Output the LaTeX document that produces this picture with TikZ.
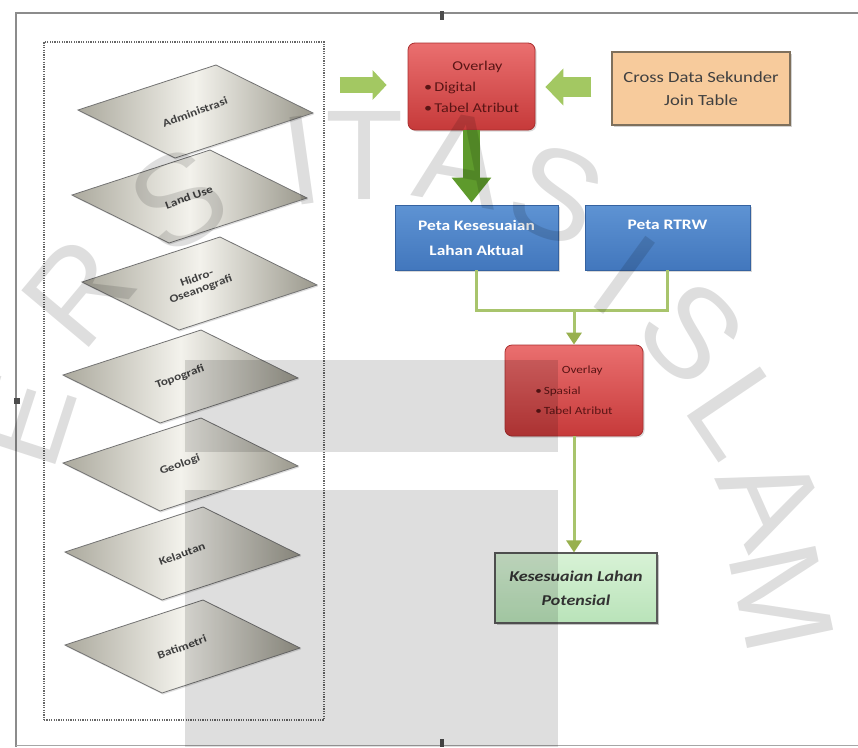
\documentclass[tikz,border=0pt]{standalone}
\usepackage{fontspec}
\setmainfont{Carlito}[FakeStretch=1.2]
\newfontfamily\wmfont{Liberation Sans}
\usetikzlibrary{arrows.meta,shadows,calc}
\definecolor{redA}{HTML}{EA6F6F}
\definecolor{redB}{HTML}{C63A3A}
\definecolor{redD}{HTML}{A92E2E}
\definecolor{redT}{HTML}{5A1515}
\definecolor{blueA}{HTML}{5E93D3}
\definecolor{blueB}{HTML}{4277BD}
\definecolor{blueD}{HTML}{3562A0}
\definecolor{beige}{HTML}{F7CB9C}
\definecolor{beigeD}{HTML}{7E705C}
\definecolor{greenA}{HTML}{D8F2D6}
\definecolor{greenB}{HTML}{B9E3B9}
\definecolor{arrG}{HTML}{A3C862}
\definecolor{arrDG}{HTML}{5E9A2C}
\definecolor{lineG}{HTML}{A8C46C}
\definecolor{tipG}{HTML}{98B04E}
\definecolor{layD}{HTML}{ABA99D}
\definecolor{layR}{HTML}{9A988C}
\definecolor{layL}{HTML}{F3F2EC}
\tikzset{
  redbox/.style={draw=redD, line width=0.8pt, rounded corners=7pt, top color=redA, bottom color=redB,
    text=redT, align=left, inner sep=0pt, drop shadow={shadow xshift=1.5pt, shadow yshift=-1.5pt, opacity=0.3}},
  bluebox/.style={draw=blueD, line width=0.8pt, top color=blueA, bottom color=blueB,
    text=white, align=center, font=\fontsize{14.5}{25}\selectfont\bfseries, inner sep=0pt,
    drop shadow={shadow xshift=1.5pt, shadow yshift=-1.5pt, opacity=0.3}},
  beigebox/.style={draw=beigeD, line width=1.4pt, fill=beige, text=black!75, align=center,
    font=\fontsize{15.5}{23}\selectfont, inner sep=0pt, drop shadow={shadow xshift=2pt, shadow yshift=-2pt, opacity=0.35}},
  greenbox/.style={draw=black!65, line width=1.2pt, top color=greenA, bottom color=greenB, text=black!80,
    align=center, font=\fontsize{15}{24}\selectfont\bfseries\itshape, inner sep=0pt,
    drop shadow={shadow xshift=2pt, shadow yshift=-2pt, opacity=0.45}},
  layer/.style={draw=black!55, line width=0.8pt, left color=layD, right color=layR, middle color=layL,
    drop shadow={shadow xshift=1pt, shadow yshift=-1.5pt, opacity=0.25}},
  laytext/.style={text=black!75, rotate=20, align=center, font=\fontsize{11}{12}\selectfont\bfseries},
  dotframe/.style={draw=black!60, line width=1.8pt, dash pattern=on 1.2pt off 1.2pt},
  blockarrow/.style={draw=arrG},
  thinlink/.style={draw=lineG, line width=3pt},
  wm/.style={text=black, text opacity=0.13, font=\wmfont\fontsize{128}{128}\selectfont},
  overlay/.style={fill=black, fill opacity=0.13, draw=none}
}
\begin{document}
\begin{tikzpicture}[x=1pt,y=-1pt]
\useasboundingbox (0,0) rectangle (858,747);
\fill[white] (0,0) rectangle (858,747);
% outer picture frame
\draw[black!45, line width=1.2pt] (858,13) -- (16,13) -- (16,747);
\draw[black!35, line width=1pt] (16,745.5) -- (858,745.5);
\fill[black!70] (440,11) rectangle (444,20);
\fill[black!70] (440,739) rectangle (444,747);
\fill[black!70] (14,398) rectangle (20,404);

% layers frame
\node[dotframe, minimum width=280pt, minimum height=678pt, inner sep=0pt] (layers) at (184,381) {};

% layer sheets (bottom first)
\foreach \n/\lx/\ly/\t in {7/65/645/Batimetri, 6/65/552/Kelautan, 5/63/463/Geologi, 4/63/375/Topografi,
  3/82/282/{Hidro-\\Oseanografi}, 2/72/195/Land Use, 1/78/110/Administrasi}{
  \coordinate (L\n) at (\lx,\ly);
  \path[layer] (L\n) -- ++(138,-45) -- ++(97,48) -- ++(-138,45) -- cycle;
  \node[laytext] (lt\n) at ($(L\n)+(117,2)$) {\t};
}

% boxes
\node[redbox, minimum width=127pt, minimum height=87pt, font=\fontsize{13.5}{21}\selectfont] (red1) at (471.5,86.5)
  {\hspace*{2.1em}Overlay\\\textbullet\,Digital\\\textbullet\,Tabel Atribut};
\node[beigebox, minimum width=178pt, minimum height=73pt] (src) at (701,88.5)
  {Cross Data Sekunder\\Join Table};
\node[bluebox, minimum width=163pt, minimum height=65pt] (peta1) at (476.5,237.5)
  {Peta Kesesuaian\\Lahan Aktual};
\node[bluebox, minimum width=165pt, minimum height=65pt] (peta2) at (667.5,237.5)
  {Peta RTRW\\\phantom{L}};
\node[redbox, minimum width=138pt, minimum height=91pt, font=\fontsize{11}{20.5}\selectfont] (red2) at (574,390.5)
  {\hspace*{2.4em}Overlay\\\textbullet\,Spasial\\\textbullet\,Tabel Atribut};
\node[greenbox, minimum width=162pt, minimum height=70pt] (pot) at (576,588)
  {Kesesuaian Lahan\\Potensial};

% block arrows
\draw[blockarrow, line width=16pt, -{Triangle[width=29pt,length=14pt]}, shorten <=15pt, shorten >=21pt]
  (layers.east |- 0,85) coordinate (a1s) -- (red1.west |- 0,85) coordinate (a1e);
\draw[blockarrow, line width=20pt, -{Triangle[width=36pt,length=18pt]}, shorten <=20pt, shorten >=10pt]
  (src.west |- 0,87) coordinate (a2s) -- (red1.east |- 0,87) coordinate (a2e);
\draw[draw=arrDG, line width=17pt, -{Triangle[width=38pt,length=25pt]}, shorten >=2pt]
  (red1.south) -- (red1.south |- peta1.north);

% thin links
\coordinate (j) at (red2.north |- 0,310);
\draw[thinlink] (peta1.south) |- (j) -| (peta2.south);
\draw[thinlink, -{Triangle[width=15pt,length=12pt,color=tipG]}] (j) -- (red2.north);
\draw[thinlink, -{Triangle[width=15pt,length=12pt,color=tipG]}] (red2.south) -- (red2.south |- pot.north);

% watermark
\foreach \c/\x/\y/\r in {E/24/420/72, R/78/292/50, S/178/200/30, I/302/160/8, T/365/155/0,
  A/460/160/-10, S/557/195/-22, I/625/275/-36, S/692/333/-46, L/738/412/-56, A/772/500/-66, M/782/597/-78}{
  \node[wm, rotate=\r] at (\x,\y) {\c};
}

% scan overlays
\fill[overlay] (185,360) rectangle (558,452);
\fill[overlay] (185,490) rectangle (558,747);
\end{tikzpicture}
\end{document}
